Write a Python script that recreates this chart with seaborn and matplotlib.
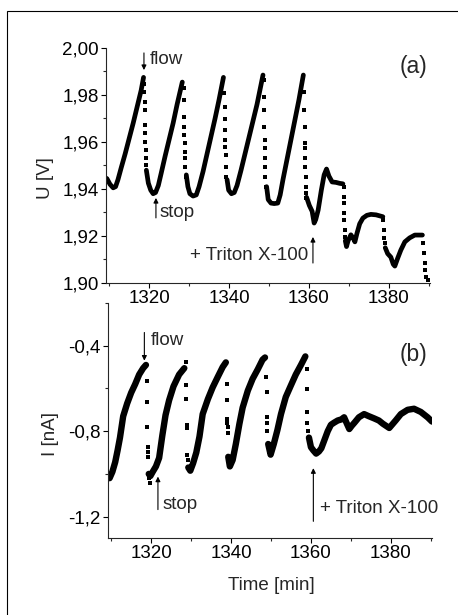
import numpy as np
import pandas as pd
import matplotlib
matplotlib.use("Agg")
import matplotlib.pyplot as plt
from matplotlib.patches import Rectangle
from matplotlib.ticker import MultipleLocator
import seaborn as sns

# ---------------- panel (a): U [V] vs time ----------------
# continuous (dense) parts of the trace, one list per segment
a_seg_t = [
    [1309.4, 1310.2, 1311.0, 1311.6, 1312.2, 1313.0, 1314.0, 1315.0, 1316.0, 1317.0, 1318.0, 1318.6],
    [1319.3, 1319.8, 1320.4, 1321.0, 1321.6, 1322.3, 1323.0, 1324.0, 1325.0, 1326.0, 1327.0, 1328.3],
    [1329.3, 1329.7, 1330.2, 1331.0, 1331.8, 1332.5, 1333.5, 1334.5, 1335.5, 1336.5, 1337.5, 1338.6],
    [1339.5, 1339.9, 1340.6, 1341.3, 1342.0, 1343.0, 1344.0, 1345.0, 1346.0, 1347.0, 1348.5],
    [1349.4, 1349.8, 1350.5, 1351.3, 1352.2, 1352.8, 1353.5, 1354.5, 1355.5, 1356.5, 1357.5, 1358.6],
    [1359.4, 1360.1, 1360.8, 1361.3, 1361.7, 1362.3, 1363.1, 1363.8, 1364.4, 1365.0, 1365.8, 1366.8, 1367.7, 1368.5],
    [1369.1, 1369.4, 1369.8, 1370.5, 1371.1, 1371.5, 1372.0, 1372.7, 1373.5, 1374.5, 1375.5, 1376.8, 1378.5],
    [1379.1, 1379.7, 1380.5, 1381.1, 1381.5, 1382.2, 1383.0, 1384.0, 1385.2, 1386.5, 1388.4],
]
a_seg_u = [
    [1.9445, 1.942, 1.9405, 1.941, 1.944, 1.949, 1.955, 1.9615, 1.968, 1.975, 1.982, 1.9875],
    [1.948, 1.9425, 1.9395, 1.938, 1.9385, 1.9415, 1.9466, 1.954, 1.961, 1.968, 1.976, 1.9855],
    [1.946, 1.941, 1.938, 1.937, 1.9375, 1.941, 1.9475, 1.955, 1.9625, 1.970, 1.978, 1.9875],
    [1.944, 1.9395, 1.938, 1.9385, 1.9415, 1.948, 1.955, 1.962, 1.969, 1.976, 1.9885],
    [1.941, 1.9355, 1.934, 1.9338, 1.934, 1.9375, 1.944, 1.9525, 1.961, 1.9695, 1.978, 1.9885],
    [1.9365, 1.933, 1.9305, 1.9255, 1.927, 1.931, 1.9395, 1.946, 1.9485, 1.9455, 1.943, 1.9428, 1.9424, 1.9422],
    [1.918, 1.9155, 1.918, 1.9205, 1.919, 1.9175, 1.921, 1.9252, 1.9276, 1.9288, 1.9292, 1.929, 1.9282],
    [1.915, 1.9125, 1.911, 1.908, 1.9072, 1.9105, 1.914, 1.9175, 1.9192, 1.9204, 1.9204],
]
# sparse points during the fast drops
a_drop_t = [1318.75, 1318.8, 1318.85, 1318.9, 1318.95, 1319.0, 1319.05, 1319.1, 1319.15, 1319.2,
            1328.6, 1328.65, 1328.7, 1328.75, 1328.8, 1328.85, 1328.9, 1329.0, 1329.05, 1329.15,
            1338.85, 1338.9, 1338.95, 1339.0, 1339.05, 1339.1, 1339.15, 1339.2, 1339.3,
            1348.7, 1348.75, 1348.8, 1348.85, 1348.9, 1348.95, 1349.0, 1349.05, 1349.1, 1349.2,
            1358.8, 1358.85, 1358.9, 1358.95, 1359.0, 1359.05, 1359.1, 1359.15, 1359.2, 1359.25, 1359.3,
            1368.65, 1368.7, 1368.75, 1368.8, 1368.85, 1368.9, 1368.95,
            1378.65, 1378.75, 1378.85, 1378.95,
            1388.6, 1388.75, 1388.95, 1389.15, 1389.4, 1389.7]
a_drop_u = [1.9845, 1.9814, 1.9772, 1.9736, 1.9672, 1.9637, 1.9601, 1.9566, 1.9531, 1.9502,
            1.9829, 1.9779, 1.9708, 1.9665, 1.963, 1.9594, 1.9559, 1.9531, 1.9495, 1.9452,
            1.9807, 1.975, 1.970, 1.965, 1.9609, 1.958, 1.9545, 1.9495, 1.9452,
            1.9864, 1.9793, 1.9736, 1.9665, 1.9609, 1.9573, 1.9531, 1.9495, 1.9452, 1.941,
            1.9814, 1.9736, 1.9665, 1.9594, 1.9573, 1.9531, 1.9495, 1.9452, 1.941, 1.9382, 1.936,
            1.941, 1.9367, 1.9339, 1.9297, 1.9268, 1.9226, 1.9197,
            1.9268, 1.9226, 1.919, 1.9169,
            1.9169, 1.9126, 1.9084, 1.9055, 1.9027, 1.9013]
a_yticks = [1.90, 1.92, 1.94, 1.96, 1.98, 2.00]
a_yticklabels = ["1,90", "1,92", "1,94", "1,96", "1,98", "2,00"]

# ---------------- panel (b): I [nA] vs time ----------------
b_seg_t = [
    [1309.6, 1310.3, 1311.0, 1311.6, 1312.2, 1313.0, 1314.0, 1315.0, 1316.0, 1317.0, 1318.0, 1318.7],
    [1319.4, 1319.8, 1320.4, 1321.2, 1322.0, 1322.8, 1323.6, 1324.5, 1325.6, 1327.0, 1328.3],
    [1329.3, 1329.8, 1330.5, 1331.3, 1332.1, 1332.9, 1334.2, 1335.4, 1336.7, 1337.9, 1338.7],
    [1339.3, 1339.7, 1340.4, 1341.2, 1342.1, 1342.9, 1344.2, 1345.4, 1346.7, 1347.9, 1348.5],
    [1349.3, 1349.9, 1350.7, 1351.6, 1352.5, 1353.7, 1355.0, 1356.2, 1357.5, 1358.6],
    [1359.5, 1360.0, 1360.6, 1361.3, 1362.0, 1362.6, 1363.4, 1364.2, 1365.0, 1365.8, 1366.7,
     1367.6, 1368.3, 1369.0, 1369.6, 1370.2, 1370.9, 1372.0, 1373.3, 1374.5, 1375.8, 1377.0,
     1378.0, 1379.6, 1381.2, 1382.5, 1384.2, 1385.8, 1387.5, 1389.2, 1390.3],
]
b_seg_i = [
    [-1.02, -0.99, -0.945, -0.89, -0.83, -0.73, -0.67, -0.62, -0.58, -0.535, -0.505, -0.49],
    [-1.0, -1.01, -0.99, -0.965, -0.925, -0.82, -0.725, -0.655, -0.59, -0.535, -0.505],
    [-0.97, -0.985, -0.95, -0.9, -0.825, -0.72, -0.65, -0.595, -0.545, -0.5, -0.478],
    [-0.92, -0.965, -0.935, -0.86, -0.765, -0.69, -0.61, -0.555, -0.51, -0.465, -0.455],
    [-0.86, -0.91, -0.86, -0.795, -0.72, -0.64, -0.585, -0.535, -0.49, -0.45],
    [-0.83, -0.875, -0.89, -0.905, -0.895, -0.88, -0.84, -0.8, -0.77, -0.76, -0.75,
     -0.745, -0.735, -0.765, -0.79, -0.775, -0.76, -0.735, -0.72, -0.73, -0.74, -0.75,
     -0.765, -0.785, -0.75, -0.72, -0.7, -0.695, -0.71, -0.735, -0.755],
]
b_drop_t = [1318.85, 1318.9, 1319.0, 1319.1, 1319.15, 1319.2, 1319.5, 1319.7,
            1328.75, 1328.7, 1328.8, 1328.85, 1328.9, 1329.0, 1329.1,
            1338.95, 1339.0, 1339.05, 1339.1, 1339.12, 1339.15,
            1348.85, 1348.9, 1349.0, 1349.05, 1349.1,
            1358.9, 1358.95, 1359.05, 1359.1, 1359.2]
b_drop_i = [-0.563, -0.664, -0.78, -0.873, -0.896, -0.92, -1.02, -1.043,
            -0.478, -0.586, -0.648, -0.772, -0.787, -0.912, -0.935,
            -0.578, -0.656, -0.741, -0.764, -0.78, -0.81,
            -0.547, -0.617, -0.733, -0.764, -0.80,
            -0.508, -0.601, -0.71, -0.764, -0.80]
b_yticks = [-1.2, -0.8, -0.4]
b_yticklabels = ["-1,2", "-0,8", "-0,4"]

x_ticks = [1320, 1340, 1360, 1380]
x_lim = (1309.2, 1390.3)


def seg_frame(seg_t, seg_v):
    rows = []
    for k, (ts, vs) in enumerate(zip(seg_t, seg_v)):
        for t, v in zip(ts, vs):
            rows.append((k, t, v))
    return pd.DataFrame(rows, columns=["seg", "t", "v"])


sns.set_style("ticks")
plt.rcParams["font.family"] = ["Liberation Sans", "DejaVu Sans"]
plt.rcParams["axes.linewidth"] = 0.8

W, H = 458, 615
fig = plt.figure(figsize=(W / 100, H / 100), dpi=100)
ax_a = fig.add_axes([106 / W, 1 - 283 / H, 324 / W, 235 / H])
ax_b = fig.add_axes([108 / W, 1 - 538 / H, 324 / W, 235 / H])

arrow = dict(arrowstyle="-|>", color="k", lw=0.8, mutation_scale=7, shrinkA=0, shrinkB=0)
fs = 13.5

# panel a
sns.lineplot(data=seg_frame(a_seg_t, a_seg_u), x="t", y="v", units="seg", estimator=None,
             sort=False, color="k", lw=3.4, ax=ax_a, legend=False)
sns.scatterplot(x=a_drop_t, y=a_drop_u, marker="s", s=8, color="k", linewidth=0, ax=ax_a)
ax_a.set_ylim(1.90, 2.00)
ax_a.set_yticks(a_yticks)
ax_a.set_yticklabels(a_yticklabels)
ax_a.yaxis.set_minor_locator(MultipleLocator(0.01))

ax_a.annotate("", xy=(1318.7, 1.9906), xytext=(1318.7, 1.9979), arrowprops=arrow)
ax_a.text(1320.2, 1.9953, "flow", fontsize=fs, va="center", ha="left")
ax_a.annotate("", xy=(1321.7, 1.9362), xytext=(1321.7, 1.9277), arrowprops=arrow)
ax_a.text(1322.6, 1.9302, "stop", fontsize=fs, va="center", ha="left")
ax_a.annotate("", xy=(1361.0, 1.9196), xytext=(1361.0, 1.9085), arrowprops=arrow)
ax_a.text(1359.7, 1.9119, "+ Triton X-100", fontsize=fs, va="center", ha="right")
ax_a.text(1389.7, 1.9923, "(a)", fontsize=16.5, va="center", ha="right")

# panel b
sns.lineplot(data=seg_frame(b_seg_t, b_seg_i), x="t", y="v", units="seg", estimator=None,
             sort=False, color="k", lw=4.6, ax=ax_b, legend=False)
sns.scatterplot(x=b_drop_t, y=b_drop_i, marker="s", s=12, color="k", linewidth=0, ax=ax_b)
ax_b.set_ylim(-1.3, -0.2)
ax_b.set_yticks(b_yticks)
ax_b.set_yticklabels(b_yticklabels)
ax_b.yaxis.set_minor_locator(MultipleLocator(0.2))

ax_b.annotate("", xy=(1318.3, -0.47), xytext=(1318.3, -0.338), arrowprops=arrow)
ax_b.text(1319.8, -0.377, "flow", fontsize=fs, va="center", ha="left")
ax_b.annotate("", xy=(1321.7, -1.0125), xytext=(1321.7, -1.167), arrowprops=arrow)
ax_b.text(1322.8, -1.144, "stop", fontsize=fs, va="center", ha="left")
ax_b.annotate("", xy=(1360.6, -0.973), xytext=(1360.6, -1.222), arrowprops=arrow)
ax_b.text(1362.3, -1.16, "+ Triton X-100", fontsize=fs, va="center", ha="left")
ax_b.text(1389.2, -0.442, "(b)", fontsize=16.5, va="center", ha="right")

for ax in (ax_a, ax_b):
    ax.set_xlim(*x_lim)
    ax.set_xticks(x_ticks)
    ax.xaxis.set_minor_locator(MultipleLocator(10))
    ax.set_xlabel("")
    ax.set_ylabel("")
    sns.despine(ax=ax)
    ax.tick_params(which="major", direction="out", length=3.6, width=0.8, pad=1.5,
                   labelsize=fs, colors="k")
    ax.tick_params(which="minor", direction="out", length=2.2, width=0.8)

fig.text(45 / W, 1 - 178 / H, "U [V]", rotation=90, ha="center", va="center", fontsize=fs)
fig.text(50.5 / W, 1 - 433.5 / H, "I [nA]", rotation=90, ha="center", va="center", fontsize=fs)
fig.text(271 / W, 1 - 585 / H, "Time [min]", ha="center", va="center", fontsize=fs)

fig.add_artist(Rectangle((7 / W, -0.05), 1.0, 1 - 11 / H + 0.05, transform=fig.transFigure,
                         fill=False, lw=0.8, ec="k", clip_on=False))

fig.savefig("out.png", dpi=100)
